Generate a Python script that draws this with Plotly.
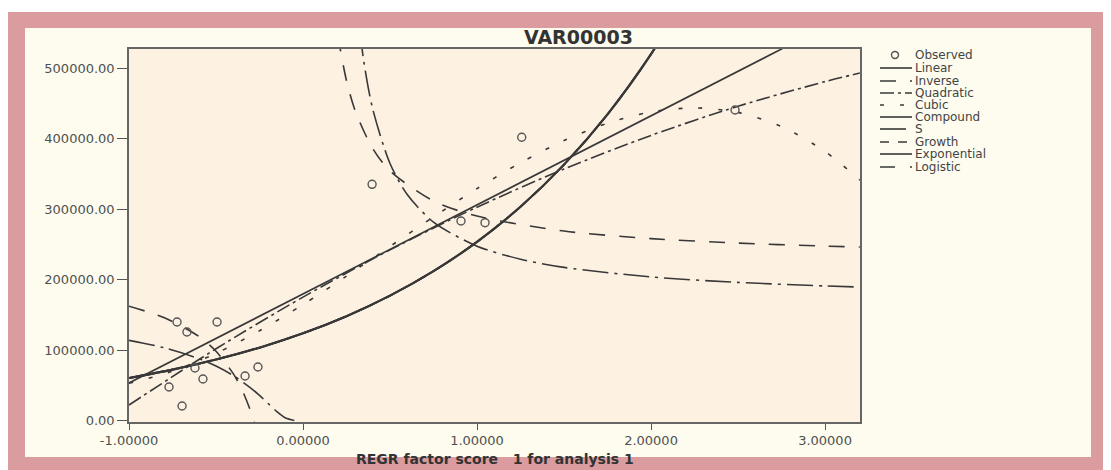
import plotly.graph_objects as go

# ---------------- data ----------------
x_tick_vals = [-1, 0, 1, 2, 3]
x_tick_text = ["-1.00000", "0.00000", "1.00000", "2.00000", "3.00000"]
y_tick_vals = [0, 100000, 200000, 300000, 400000, 500000]
y_tick_text = ["0.00", "100000.00", "200000.00", "300000.00", "400000.00", "500000.00"]

obs_x = [-0.724, -0.667, -0.494, -0.621, -0.575, -0.259, -0.333, -0.770, -0.695,
         0.397, 0.908, 1.046, 1.257, 2.483]
obs_y = [139900, 125700, 139900, 74600, 58950, 76000, 63200, 47600, 20600,
         335500, 283400, 281000, 402300, 441100]

linear_x = [-1.0, 3.2]
linear_y = [53300, 584600]

inverse_x = [-1.0, -0.8, -0.6, -0.5, -0.4, -0.35, -0.3, -0.28, None,
             0.2, 0.25, 0.3, 0.4, 0.5, 0.75, 1.0, 1.5, 2.0, 2.5, 3.0, 3.2]
inverse_y = [162300, 146300, 119600, 98300, 66200, 43400, 12900, -2400, None,
             546700, 482600, 439900, 386500, 354500, 311800, 290400, 269100,
             258400, 252000, 247700, 246400]

quad_x = [-1.0, -0.5, 0.0, 0.5, 1.0, 1.5, 2.0, 2.5, 3.0, 3.2]
quad_y = [22000, 101900, 175300, 242400, 303000, 357200, 405000, 446400, 481400, 493500]

cubic_x = [-1.0, -0.75, -0.5, -0.25, 0.0, 0.25, 0.5, 0.75, 1.0, 1.25, 1.5, 1.75,
           2.0, 2.25, 2.5, 2.75, 3.0, 3.2]
cubic_y = [52900, 69900, 95300, 127400, 164600, 205100, 247200, 289200, 329400,
           366100, 397700, 422300, 438300, 444000, 437700, 417600, 382100, 341500]

expo_x = [-1.0, -0.75, -0.5, -0.25, 0.0, 0.25, 0.5, 0.75, 1.0, 1.25, 1.5, 1.75, 2.0, 2.25]
expo_y = [60400, 72300, 86500, 103500, 123800, 148100, 177300, 212100, 253800,
          303700, 363500, 434900, 520400, 622800]

s_x = [-1.0, -0.8, -0.6, -0.5, -0.4, -0.3, -0.25, -0.2, -0.15, -0.1, -0.05, None,
       0.3, 0.35, 0.4, 0.5, 0.6, 0.75, 1.0, 1.25, 1.5, 2.0, 2.5, 3.0, 3.2]
s_y = [113900, 103400, 88000, 77300, 63700, 46100, 35600, 24100, 12600, 3500, 100, None,
       612300, 509000, 443200, 365000, 320700, 281800, 247600, 229100, 217500,
       203900, 196200, 191100, 189600]

legend_names = ["Observed", "Linear", "Inverse", "Quadratic", "Cubic", "Compound",
                "S", "Growth", "Exponential", "Logistic"]

# ---------------- styling ----------------
LINE = "#383838"
DASH = {
    "Linear": "solid",
    "Inverse": "16px,14px",
    "Quadratic": "14px,4px,3px,4px",
    "Cubic": "4px,16px",
    "Compound": "solid",
    "S": "26px,6px,3px,6px",
    "Growth": "dash",
    "Exponential": "solid",
    "Logistic": "longdash",
}
WIDTH = {"Exponential": 2.1, "Compound": 2.1}
OFF = 8  # page body margin
W, H = 1111 - OFF, 470 - OFF
# plot area in screen pixels
SL, SR, ST, SB = 129, 860, 49, 422
PL, PR, PT, PB = SL - OFF, SR - OFF, ST - OFF, SB - OFF


def px(x):
    return (x - SL) / (SR - SL)


def py(y):
    return (SB - y) / (SB - ST)


fig = go.Figure()

curves = [
    ("Linear", linear_x, linear_y),
    ("Inverse", inverse_x, inverse_y),
    ("Quadratic", quad_x, quad_y),
    ("Cubic", cubic_x, cubic_y),
    ("S", s_x, s_y),
    ("Growth", expo_x, expo_y),
    ("Logistic", expo_x, expo_y),
    ("Compound", expo_x, expo_y),
    ("Exponential", expo_x, expo_y),
]
for name, xs, ys in curves:
    fig.add_trace(go.Scatter(
        x=xs, y=ys, mode="lines", name=name, showlegend=False,
        line=dict(color=LINE, width=WIDTH.get(name, 1.6), dash=DASH[name],
                  shape="spline", smoothing=0.8),
        hoverinfo="skip"))

fig.add_trace(go.Scatter(
    x=obs_x, y=obs_y, mode="markers", name="Observed", showlegend=False,
    marker=dict(symbol="circle-open", size=8, color="#555555", line=dict(width=1.4)),
    cliponaxis=False))

shapes = []
# frame backgrounds
shapes.append(dict(type="rect", xref="paper", yref="paper", layer="below",
                   x0=px(8), x1=px(1108), y0=py(475), y1=py(12),
                   fillcolor="#db9c9f", line=dict(width=0)))
shapes.append(dict(type="rect", xref="paper", yref="paper", layer="below",
                   x0=px(25), x1=px(1091), y0=py(457), y1=py(28),
                   fillcolor="#fdfcef", line=dict(width=0)))
shapes.append(dict(type="rect", xref="paper", yref="paper", layer="below",
                   x0=0, x1=1, y0=0, y1=1,
                   fillcolor="#fdf1e2", line=dict(width=0)))

annotations = []
# legend
rows = [55, 68, 81, 93, 105, 117, 129, 142, 154, 167]
for name, ry in zip(legend_names, rows):
    if name == "Observed":
        shapes.append(dict(type="circle", xref="paper", yref="paper",
                           x0=px(891.5), x1=px(898.5), y0=py(ry + 3.5), y1=py(ry - 3.5),
                           line=dict(color="#555555", width=1.4)))
    else:
        shapes.append(dict(type="line", xref="paper", yref="paper",
                           x0=px(880), x1=px(912), y0=py(ry), y1=py(ry),
                           line=dict(color=LINE, width=1.6, dash=DASH[name])))
    annotations.append(dict(xref="paper", yref="paper", x=px(913), y=py(ry),
                            xanchor="left", yanchor="middle", showarrow=False,
                            text=name, font=dict(family="DejaVu Sans", size=12, color="#444444")))

annotations.append(dict(xref="paper", yref="paper", x=px(578), y=py(37),
                        xanchor="center", yanchor="middle", showarrow=False,
                        text="<b>VAR00003</b>",
                        font=dict(family="DejaVu Sans", size=19, color="#333333")))
annotations.append(dict(xref="paper", yref="paper", x=0.5, y=py(459),
                        xanchor="center", yanchor="middle", showarrow=False,
                        text="<b>REGR factor score   1 for analysis 1</b>",
                        font=dict(family="DejaVu Sans", size=14, color="#333333")))

fig.update_layout(
    width=W, height=H,
    margin=dict(l=PL, r=W - PR, t=PT, b=H - PB),
    paper_bgcolor="#ffffff", plot_bgcolor="#fdf1e2",
    showlegend=False,
    shapes=shapes, annotations=annotations,
    xaxis=dict(range=[-1, 3.201], tickvals=x_tick_vals, ticktext=x_tick_text,
               ticks="outside", ticklen=6, tickcolor="#555555", tickwidth=1.3,
               showline=True, linecolor="#666666", linewidth=1.5, mirror=True,
               showgrid=False, zeroline=False,
               tickfont=dict(family="DejaVu Sans", size=13, color="#505050")),
    yaxis=dict(range=[-2130, 527700], tickvals=y_tick_vals, ticktext=y_tick_text,
               ticks="outside", ticklen=10, tickcolor="#555555", tickwidth=1.3,
               showline=True, linecolor="#666666", linewidth=1.5, mirror=True,
               showgrid=False, zeroline=False,
               tickfont=dict(family="DejaVu Sans", size=13, color="#505050")),
)

fig.write_html("out.html")
